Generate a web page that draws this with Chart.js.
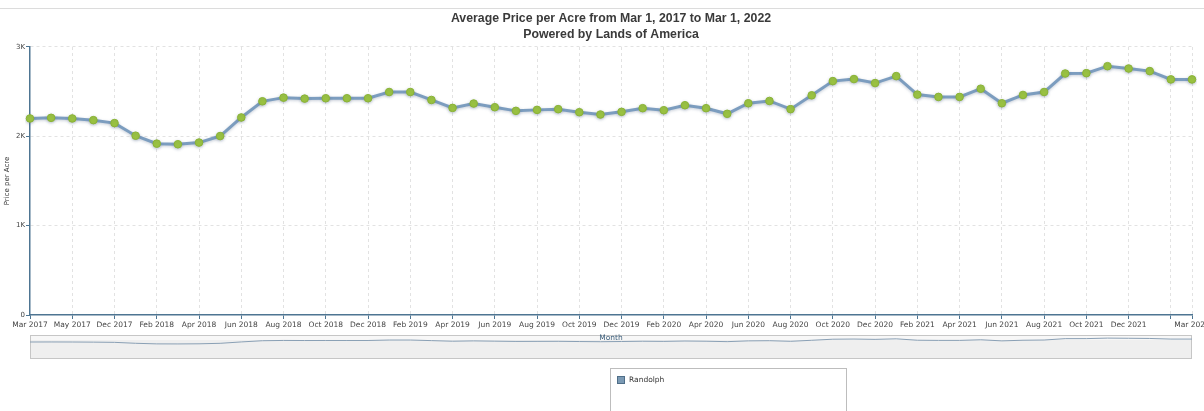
<!DOCTYPE html>
<html>
<head>
<meta charset="utf-8">
<script src="https://cdn.jsdelivr.net/npm/chart.js@4/dist/chart.umd.min.js"></script>
<style>
  html, body { margin: 0; padding: 0; background: #fff; }
  #wrap { position: relative; width: 1204px; height: 411px; }
</style>
</head>
<body>
<div id="wrap"><canvas id="c" width="1204" height="411"></canvas></div>
<script>
const months = [
  'Mar 2017','Apr 2017','May 2017','Nov 2017','Dec 2017','Jan 2018','Feb 2018','Mar 2018',
  'Apr 2018','May 2018','Jun 2018','Jul 2018','Aug 2018','Sep 2018','Oct 2018','Nov 2018',
  'Dec 2018','Jan 2019','Feb 2019','Mar 2019','Apr 2019','May 2019','Jun 2019','Jul 2019',
  'Aug 2019','Sep 2019','Oct 2019','Nov 2019','Dec 2019','Jan 2020','Feb 2020','Mar 2020',
  'Apr 2020','May 2020','Jun 2020','Jul 2020','Aug 2020','Sep 2020','Oct 2020','Nov 2020',
  'Dec 2020','Jan 2021','Feb 2021','Mar 2021','Apr 2021','May 2021','Jun 2021','Jul 2021',
  'Aug 2021','Sep 2021','Oct 2021','Nov 2021','Dec 2021','Jan 2022','Feb 2022','Mar 2022'
];
const randolph = [
  2200,2207,2200,2181,2148,2007,1918,1911,1930,2003,
  2211,2392,2433,2422,2426,2426,2426,2496,2496,2407,
  2318,2367,2326,2285,2296,2304,2270,2244,2274,2315,
  2292,2348,2315,2252,2370,2396,2304,2459,2618,2641,
  2596,2674,2467,2441,2441,2533,2370,2463,2496,2703,
  2707,2785,2759,2730,2637,2637
];
const xTickLabels = [
  'Mar 2017','May 2017','Dec 2017','Feb 2018','Apr 2018','Jun 2018','Aug 2018','Oct 2018',
  'Dec 2018','Feb 2019','Apr 2019','Jun 2019','Aug 2019','Oct 2019','Dec 2019','Feb 2020',
  'Apr 2020','Jun 2020','Aug 2020','Oct 2020','Dec 2020','Feb 2021','Apr 2021','Jun 2021',
  'Aug 2021','Oct 2021','Dec 2021','Mar 2022'
];
const xGridOnly = ['Feb 2022'];
const yTickValues = [0, 1000, 2000, 3000];
const yTickLabels = ['0', '1K', '2K', '3K'];
const titleLines = ['Average Price per Acre from Mar 1, 2017 to Mar 1, 2022', 'Powered by Lands of America'];
const seriesName = 'Randolph';

const FONT = "'DejaVu Sans', Verdana, sans-serif";

function hasTick(i) {
  const m = months[i];
  return xTickLabels.includes(m) || xGridOnly.includes(m);
}

const decorPlugin = {
  id: 'decor',
  beforeDraw(chart) {
    const ctx = chart.ctx;
    const xs = chart.scales.x;
    ctx.save();
    ctx.fillStyle = '#fff';
    ctx.fillRect(0, 0, chart.width, chart.height);
    // top separator
    ctx.strokeStyle = '#dcdcdc';
    ctx.lineWidth = 1;
    ctx.beginPath(); ctx.moveTo(0, 8.5); ctx.lineTo(chart.width, 8.5); ctx.stroke();
    // navigator
    const nl = xs.left, nr = xs.right, nt = 335, nb = 359;
    ctx.fillStyle = '#efefef';
    ctx.fillRect(nl, nt, nr - nl, nb - nt);
    ctx.fillStyle = '#f7f7f7';
    ctx.fillRect(nl, nt, nr - nl, 5);
    ctx.strokeStyle = '#c6c6c6';
    ctx.strokeRect(nl + 0.5, nt + 0.5, nr - nl - 1, nb - nt - 1);
    ctx.strokeStyle = '#8aa0b5';
    ctx.lineWidth = 1;
    ctx.beginPath();
    randolph.forEach((v, i) => {
      const x = xs.getPixelForValue(i);
      const y = 344 - (v - 1900) / 900 * 6;
      if (i === 0) ctx.moveTo(x, y); else ctx.lineTo(x, y);
    });
    ctx.stroke();
    // legend box
    ctx.fillStyle = '#fff';
    ctx.fillRect(610, 368, 236, 60);
    ctx.strokeStyle = '#bdbdbd';
    ctx.strokeRect(610.5, 368.5, 236, 60);
    ctx.fillStyle = '#7b9ab4';
    ctx.fillRect(617, 376, 8, 8);
    ctx.strokeStyle = '#4f6e88';
    ctx.strokeRect(617.5, 376.5, 7, 7);
    ctx.fillStyle = '#333';
    ctx.font = '7.5px ' + FONT;
    ctx.textBaseline = 'middle';
    ctx.textAlign = 'left';
    ctx.fillText(chart.data.datasets[0].label, 629, 380.5);
    ctx.restore();
  },
  beforeDatasetsDraw(chart) {
    chart.ctx.save();
    chart.ctx.shadowColor = 'rgba(90,110,140,0.35)';
    chart.ctx.shadowBlur = 3;
    chart.ctx.shadowOffsetY = 1;
  },
  afterDatasetsDraw(chart) {
    chart.ctx.restore();
  }
};

new Chart(document.getElementById('c'), {
  type: 'line',
  data: {
    labels: months,
    datasets: [{
      label: seriesName,
      data: randolph,
      borderColor: '#7c9dbf',
      borderWidth: 3,
      tension: 0,
      pointRadius: 3.8,
      pointBackgroundColor: '#9cc53e',
      pointBorderColor: '#8bb435',
      pointBorderWidth: 1
    }]
  },
  options: {
    responsive: false,
    animation: false,
    devicePixelRatio: 1,
    layout: { padding: { top: 0, left: 0, right: 12, bottom: 68 } },
    plugins: {
      legend: { display: false },
      tooltip: { enabled: false },
      title: {
        display: true,
        fullSize: false,
        text: titleLines,
        color: '#3a3a3a',
        font: { family: "'Liberation Sans', Arial, sans-serif", size: 12.3, weight: 'bold', lineHeight: 1.3 },
        padding: { top: 10.5, bottom: 4.5 }
      }
    },
    scales: {
      x: {
        type: 'category',
        offset: false,
        afterFit(s) { s.height = 28; s.paddingLeft = 0; s.paddingRight = 0; },
        border: { display: true, color: '#4e7592', width: 1.5, dash: [3, 3] },
        grid: {
          display: true,
          drawOnChartArea: true,
          tickLength: 4,
          tickBorderDash: [],
          color: (c) => (c.index !== undefined && hasTick(c.index) && c.index !== 0) ? '#e2e2e2' : 'rgba(0,0,0,0)',
          tickColor: (c) => (c.index !== undefined && hasTick(c.index)) ? '#4e7592' : 'rgba(0,0,0,0)'
        },
        ticks: {
          autoSkip: false,
          maxRotation: 0,
          minRotation: 0,
          padding: 2,
          color: '#444',
          font: { family: FONT, size: 7.5 },
          callback(v, i) { return xTickLabels.includes(months[i]) ? months[i] : ''; }
        },
        title: {
          display: true,
          text: 'Month',
          color: '#3d5f7c',
          font: { family: FONT, size: 7.5 },
          padding: { top: 0, bottom: 0 }
        }
      },
      y: {
        min: 0,
        max: 3000,
        afterFit(s) { s.width = 30; s.paddingTop = 0; s.paddingBottom = 0; },
        afterBuildTicks(s) { s.ticks = yTickValues.map(v => ({ value: v })); },
        border: { display: true, color: '#4e7592', width: 1.5, dash: [3, 3] },
        grid: {
          tickLength: 4,
          tickBorderDash: [],
          color: (c) => (c.tick && c.tick.value === 0) ? 'rgba(0,0,0,0)' : '#e2e2e2',
          tickColor: '#4e7592'
        },
        ticks: {
          padding: 1,
          color: '#444',
          font: { family: FONT, size: 7 },
          callback(v) { const k = yTickValues.indexOf(v); return k >= 0 ? yTickLabels[k] : ''; }
        },
        title: {
          display: true,
          text: 'Price per Acre',
          color: '#333',
          font: { family: FONT, size: 7 },
          padding: { top: 3, bottom: 0 }
        }
      }
    }
  },
  plugins: [decorPlugin]
});
</script>
</body>
</html>
